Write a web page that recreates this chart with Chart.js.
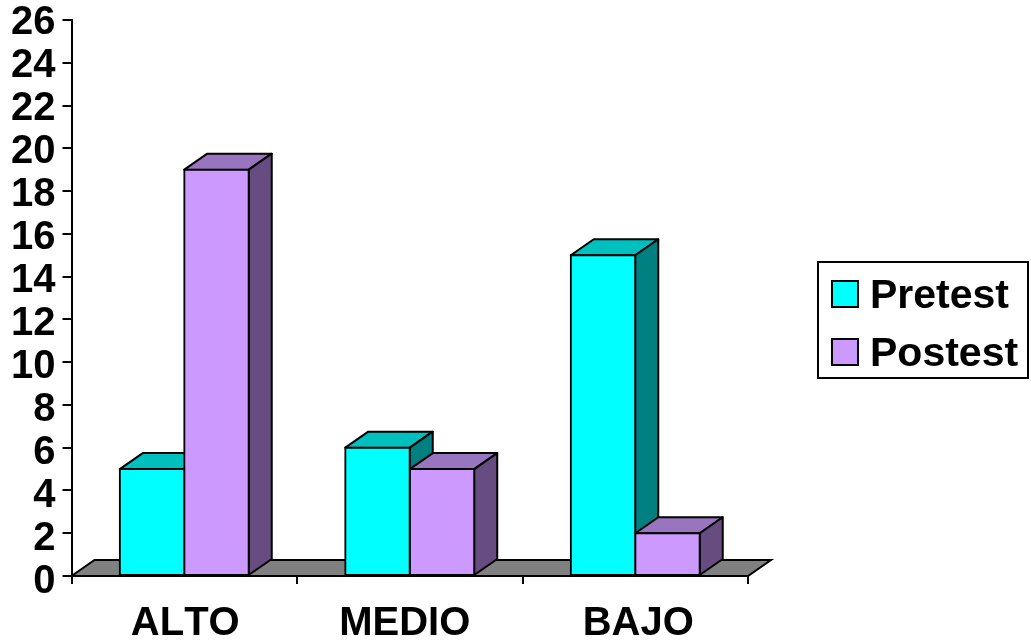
<!DOCTYPE html>
<html>
<head>
<meta charset="utf-8">
<title>Pretest / Postest</title>
<script src="https://cdn.jsdelivr.net/npm/chart.js@4"></script>
<style>
  html, body { margin: 0; padding: 0; background: #fff; }
  canvas { display: block; }
</style>
</head>
<body>
<canvas id="myChart" width="1031" height="644"></canvas>
<script>
const categories = ['ALTO', 'MEDIO', 'BAJO'];
const pretest = [5, 6, 15];
const postest = [19, 5, 2];
const yTicks = [0, 2, 4, 6, 8, 10, 12, 14, 16, 18, 20, 22, 24, 26];

const fontFamily = '"Liberation Sans", Arial, sans-serif';
const depthX = 23;
const depthY = 16;

// top and side faces of one box, painted before the front face
function drawBoxFaces(ctx, bar, topColor, sideColor) {
  const left = bar.x - bar.width / 2;
  const right = bar.x + bar.width / 2;
  ctx.lineWidth = 2;
  ctx.strokeStyle = '#000';
  ctx.lineJoin = 'round';

  ctx.fillStyle = topColor;
  ctx.beginPath();
  ctx.moveTo(left, bar.y);
  ctx.lineTo(left + depthX, bar.y - depthY);
  ctx.lineTo(right + depthX, bar.y - depthY);
  ctx.lineTo(right, bar.y);
  ctx.closePath();
  ctx.fill();
  ctx.stroke();

  ctx.fillStyle = sideColor;
  ctx.beginPath();
  ctx.moveTo(right, bar.y);
  ctx.lineTo(right + depthX, bar.y - depthY);
  ctx.lineTo(right + depthX, bar.base - depthY);
  ctx.lineTo(right, bar.base);
  ctx.closePath();
  ctx.fill();
  ctx.stroke();
}

const box3d = {
  id: 'box3d',
  beforeDraw(chart) {
    chart.ctx.fontKerning = 'none';
    // value labels drift a little below their tick marks towards the bottom
    const yScale = chart.scales.y;
    yScale.getLabelItems().forEach((item, i) => {
      item.options.translation[1] += 2.5 + 3 * (26 - yScale.ticks[i].value) / 26;
    });
    // category labels are not quite centred on their groups
    const xNudge = [1, -5, 3];
    chart.scales.x.getLabelItems().forEach((item, i) => {
      item.options.translation[0] += xNudge[i];
    });
  },
  beforeDatasetsDraw(chart) {
    // grey floor under the boxes
    const { ctx, chartArea } = chart;
    ctx.save();
    ctx.fillStyle = '#808080';
    ctx.strokeStyle = '#000';
    ctx.lineWidth = 2;
    ctx.beginPath();
    ctx.moveTo(chartArea.left, chartArea.bottom);
    ctx.lineTo(chartArea.left + depthX, chartArea.bottom - depthY);
    ctx.lineTo(chartArea.right + depthX, chartArea.bottom - depthY);
    ctx.lineTo(chartArea.right, chartArea.bottom);
    ctx.closePath();
    ctx.fill();
    ctx.stroke();
    // Pretest faces first so the Postest boxes cover them
    chart.data.datasets.forEach((ds, i) => {
      chart.getDatasetMeta(i).data.forEach((bar) => drawBoxFaces(ctx, bar, ds.topColor, ds.sideColor));
    });
    ctx.restore();
  }
};

// framed legend at the right of the plot
const framedLegend = {
  id: 'framedLegend',
  afterDraw(chart) {
    const ctx = chart.ctx;
    ctx.save();
    ctx.strokeStyle = '#000';
    ctx.lineWidth = 2;
    ctx.strokeRect(818, 262, 210, 116);
    ctx.font = 'bold 41px ' + fontFamily;
    ctx.textAlign = 'left';
    ctx.textBaseline = 'alphabetic';
    chart.data.datasets.forEach((ds, i) => {
      const y = 281 + i * 58;
      ctx.fillStyle = ds.backgroundColor;
      ctx.fillRect(832, y, 26, 26);
      ctx.strokeRect(832, y, 26, 26);
      ctx.fillStyle = '#000';
      ctx.fillText(ds.label, 870, y + 27);
    });
    ctx.restore();
  }
};

const myChart = new Chart(document.getElementById('myChart'), {
  type: 'bar',
  data: {
    labels: categories,
    datasets: [
      {
        label: 'Pretest',
        data: pretest,
        backgroundColor: '#00FFFF',
        topColor: '#00BFBF',
        sideColor: '#008080'
      },
      {
        label: 'Postest',
        data: postest,
        backgroundColor: '#CC99FF',
        topColor: '#9975BF',
        sideColor: '#664C80'
      }
    ]
  },
  options: {
    responsive: false,
    animation: false,
    layout: { padding: { top: 20, right: 283, bottom: 0, left: 0 } },
    datasets: {
      bar: {
        borderColor: '#000',
        borderWidth: 2,
        borderSkipped: false,
        inflateAmount: 1,
        barPercentage: 1,
        categoryPercentage: 0.572
      }
    },
    plugins: {
      legend: { display: false },
      title: { display: false },
      tooltip: { enabled: false }
    },
    scales: {
      x: {
        afterFit(scale) { scale.height = 68; },
        border: { color: '#000', width: 2 },
        grid: {
          offset: true,
          drawOnChartArea: false,
          color: '#000',
          lineWidth: 2,
          tickLength: 8,
          tickWidth: 2,
          tickColor: '#000'
        },
        ticks: {
          color: '#000',
          padding: 16,
          maxRotation: 0,
          font: { family: fontFamily, size: 40, weight: 'bold' }
        }
      },
      y: {
        min: 0,
        max: 26,
        afterFit(scale) {
          scale.width = 71.5;
          scale.paddingTop = 0;
          scale.paddingBottom = 0;
        },
        afterBuildTicks(scale) { scale.ticks = yTicks.map((value) => ({ value })); },
        border: { color: '#000', width: 2 },
        grid: {
          drawOnChartArea: false,
          color: '#000',
          lineWidth: 2,
          tickLength: 9,
          tickWidth: 2,
          tickColor: '#000'
        },
        ticks: {
          color: '#000',
          padding: 7,
          autoSkip: false,
          font: { family: fontFamily, size: 40, weight: 'bold' }
        }
      }
    }
  },
  plugins: [box3d, framedLegend]
});
</script>
</body>
</html>
